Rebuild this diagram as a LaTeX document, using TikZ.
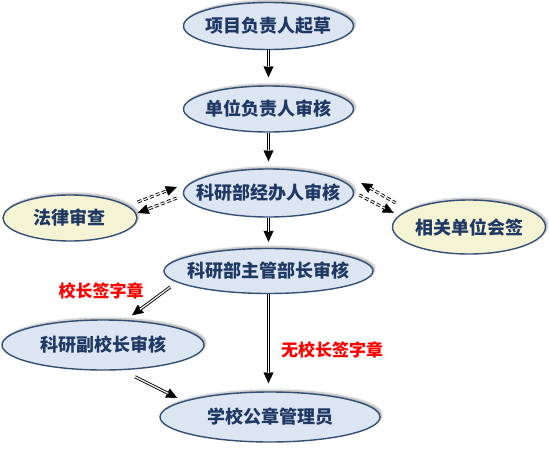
\documentclass[tikz,border=0pt]{standalone}
\usepackage{fontspec}
\newfontfamily\cjk{Noto Sans CJK SC}
\usetikzlibrary{shapes.geometric,arrows.meta,shadows.blur,calc}

\definecolor{ellblue}{RGB}{220,230,242}
\definecolor{ellyellow}{RGB}{244,243,212}
\definecolor{ellline}{RGB}{50,80,117}
\definecolor{txtblue}{RGB}{31,56,100}

\tikzset{every picture/.style={line width=0.75pt}}
\tikzset{
stepell/.style={ellipse, draw=ellline, line width=1.4pt, fill=ellblue, text=txtblue,
  font=\cjk\bfseries\fontsize{18}{20}\selectfont, inner xsep=-30pt, inner ysep=0pt,
  blur shadow={shadow xshift=2pt, shadow yshift=2pt, shadow opacity=30, shadow blur steps=5}},
sideell/.style={stepell, fill=ellyellow},
flowarr/.style={line width=3pt, -{Triangle[length=11pt,width=10pt,line width=0.4pt]},
  postaction={draw=white, line width=1.2pt, -, shorten >=10pt}},
dasharr/.style={flowarr, dash pattern=on 4pt off 2.5pt},
redlbl/.style={text=red, font=\cjk\bfseries\fontsize{17}{20}\selectfont, inner sep=0pt}
}

\begin{document}
\begin{tikzpicture}[x=1pt,y=1pt,yscale=-1,xscale=1]
\useasboundingbox (0,0) rectangle (549,453);

%Shape: Ellipse
\node [stepell, minimum width=170pt, minimum height=47pt] (xm) at (268.5,26) {项目负责人起草};
%Shape: Ellipse
\node [stepell, minimum width=170pt, minimum height=46pt] (dw) at (268.5,109) {单位负责人审核};
%Shape: Ellipse
\node [stepell, minimum width=170pt, minimum height=48pt] (jb) at (268.5,193) {科研部经办人审核};
%Shape: Ellipse
\node [sideell, minimum width=134pt, minimum height=46pt] (fl) at (70,218) {法律审查};
%Shape: Ellipse
\node [sideell, minimum width=153pt, minimum height=54pt] (xg) at (469,227) {相关单位会签};
%Shape: Ellipse
\node [stepell, minimum width=209pt, minimum height=45pt] (zg) at (268.5,271) {科研部主管部长审核};
%Shape: Ellipse
\node [stepell, minimum width=202pt, minimum height=50pt] (fx) at (103,345) {科研副校长审核};
%Shape: Ellipse
\node [stepell, minimum width=220pt, minimum height=50pt] (gz) at (270,417) {学校公章管理员};

%Straight Lines
\draw [flowarr] (xm.south) -- ($(dw.north)+(0,-8)$);
\draw [flowarr] (dw.south) -- ($(jb.north)+(0,-7)$);
\draw [flowarr] (jb.south) -- ($(zg.north)+(0,-6)$);
\draw [flowarr] (zg.south) -- ($(zg.south |- gz.north)+(0,-8)$);
\draw [flowarr] ($(zg.west)+(7,16)$) -- ($(fx.north)+(29,-4)$);
\draw [flowarr] ($(fx.south)+(32,6)$) -- ($(gz.west)+(18,-19)$);

%Dashed Lines
\draw [dasharr] ($(fl.east)+(0,-16)$) -- ($(jb.west)+(-6,-6)$);
\draw [dasharr] ($(jb.west)+(-6,5)$) -- ($(fl.east)+(0,-5)$);
\draw [dasharr] ($(xg.west)+(4,-24)$) -- ($(jb.east)+(7,-10)$);
\draw [dasharr] ($(jb.east)+(5,2)$) -- ($(xg.west)+(2,-14)$);

% Text Node
\node [redlbl] (qz) at (101,291) {校长签字章};
% Text Node
\node [redlbl] (wqz) at (332,350) {无校长签字章};

\end{tikzpicture}
\end{document}
